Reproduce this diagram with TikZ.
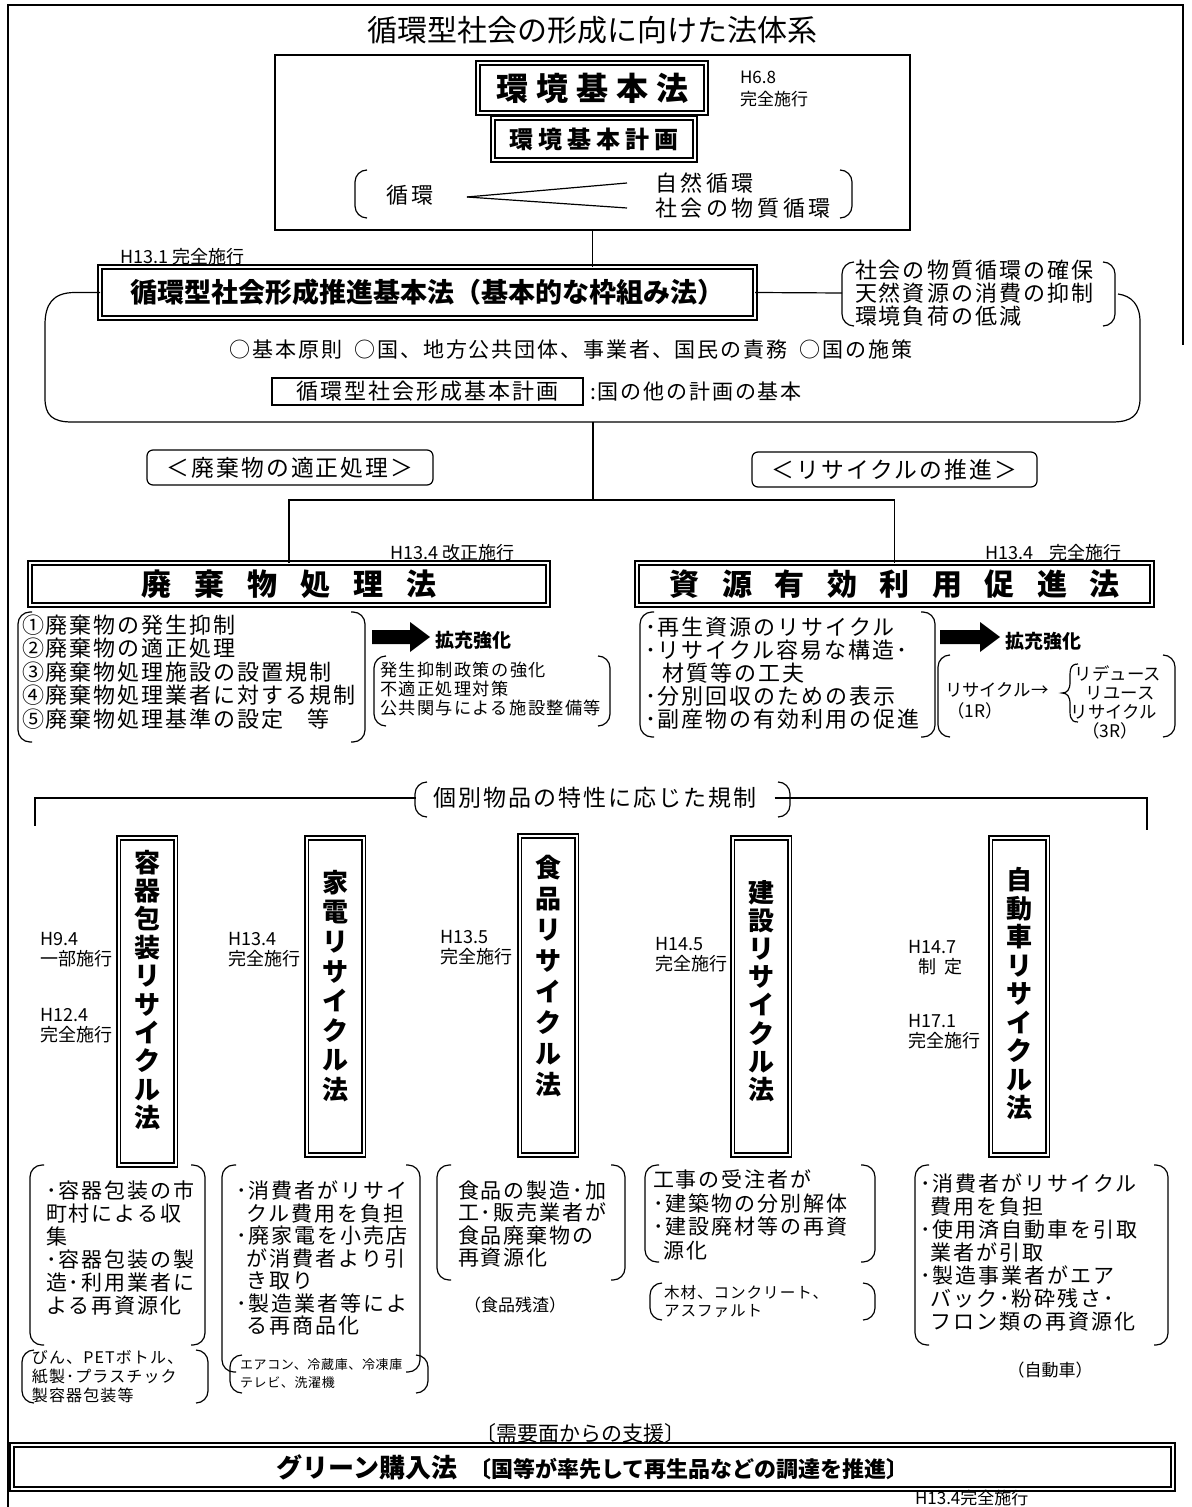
\documentclass[tikz,border=0pt]{standalone}
\usepackage{fontspec}
\setmainfont{Noto Sans CJK JP}
\makeatletter
\newcommand\lsp[2]{\begingroup\def\lsp@sep{\hspace{#1}}\lsp@a#2\lsp@end\endgroup}
\def\lsp@a#1#2\lsp@end{#1\ifx\lsp@end#2\lsp@end\else\lsp@sep\lsp@a#2\lsp@end\fi}
\makeatother
\newcommand\parens[5]{%
  \draw[brk] (#1+#5,#3) -- (#1,#3) -- (#1,#4) -- (#1+#5,#4);
  \draw[brk] (#2-#5,#3) -- (#2,#3) -- (#2,#4) -- (#2-#5,#4);}
\newcommand\jf[3]{\fontsize{#1}{#2}\selectfont\addfontfeatures{LetterSpace=#3}}
\begin{document}
\begin{tikzpicture}[x=0.5pt,y=-0.5pt,
  every node/.style={inner sep=0pt, outer sep=0pt},
  dbox/.style={draw, double, line width=0.8pt, double distance=1.0pt},
  sbox/.style={draw, line width=0.6pt},
  brk/.style={line width=0.6pt, rounded corners=6pt},
  ln/.style={line width=0.6pt},
  vt/.style={align=center},
  lst/.style={anchor=west, align=left},
]
\useasboundingbox (0,0) rectangle (1191,1507);

% outer frame
\draw[ln] (8,1507) -- (8,5) -- (1183,5) -- (1183,345);

\node (title) at (592,30) {\fontsize{15}{18}\selectfont 循環型社会の形成に向けた法体系};

% ---------- top box ----------
\node[sbox, minimum width=317.5pt, minimum height=87.5pt] (topbox) at (592.5,142.5) {};
\node[dbox, minimum width=114pt, minimum height=25pt, font=\fontsize{16}{18}\selectfont\bfseries] (kankyo) at (592,88) {\lsp{4pt}{環境基本法}};
\node[lst, font=\fontsize{8.5}{11}\selectfont] (h68) at (740,89) {H6.8\\完全施行};
\node[dbox, minimum width=101pt, minimum height=21pt, font=\fontsize{12}{14}\selectfont\bfseries] (keikaku) at (594,139) {\lsp{2.5pt}{環境基本計画}};
\parens{355}{852}{170}{218}{12}
\node[font=\fontsize{11}{13}\selectfont] (junkan) at (410,195) {\lsp{2pt}{循環}};
\node[anchor=west, font=\fontsize{11}{13}\selectfont] (shizen) at (655,183) {\lsp{1.8pt}{自然循環}};
\node[anchor=west, font=\fontsize{11}{13}\selectfont] (shakai) at (655,208) {\lsp{1.8pt}{社会の物質循環}};
\coordinate (jA) at (467,197);
\draw[ln] (jA) -- ([xshift=-14pt]shizen.west);
\draw[ln] (jA) -- ([xshift=-14pt]shakai.west);

% ---------- basic law ----------
\node[anchor=west, font=\fontsize{9}{11}\selectfont] (h131) at (120,257) {H13.1 完全施行};
\node[dbox, minimum width=327.5pt, minimum height=25.5pt, font=\fontsize{13.5}{16}\selectfont\bfseries] (kihon) at (427.5,292.5) {循環型社会形成推進基本法（基本的な枠組み法）};
\draw[ln] (topbox.south) -- (topbox.south |- kihon.north);
\node[lst, font=\fontsize{11}{11.5}\selectfont] (rgrp) at (855,293) {\lsp{1pt}{社会の物質循環の確保}\\\lsp{1pt}{天然資源の消費の抑制}\\\lsp{1pt}{環境負荷の低減}};
\parens{842}{1115}{262}{326}{12}
\draw[ln] (kihon.east) -- ([xshift=-6.5pt]rgrp.west);
\draw[ln] (kihon.west) -- (75,292.5) .. controls (52,292.5) and (45,305) .. (45,325) -- (45,398)
   .. controls (45,415) and (52,422) .. (72,422) -- (1112,422)
   .. controls (1132,422) and (1140,415) .. (1140,398) -- (1140,322)
   .. controls (1140,305) and (1132,296) .. (1118,294);
\node[font=\jf{10.5}{13}{9}] (gensoku) at (571,350) {○基本原則\hspace{6pt}○国、地方公共団体、事業者、国民の責務\hspace{6pt}○国の施策};
\node[sbox, minimum width=155.5pt, minimum height=13.5pt, font=\jf{11}{14}{9}] (kplan) at (427.5,391.5) {循環型社会形成基本計画};
\node[anchor=west, font=\jf{10.5}{13}{9}] (kplan2) at (590,392) {:国の他の計画の基本};

% ---------- split ----------
\coordinate (regbot) at (593,422);
\coordinate (split) at (593,500);
\node[sbox, rounded corners=3pt, minimum width=143pt, minimum height=17.5pt, font=\jf{11.4}{14}{9}] (lab1) at (290,467.5) {＜廃棄物の適正処理＞};
\node[sbox, rounded corners=3pt, minimum width=142.5pt, minimum height=17.5pt, font=\jf{11.4}{14}{9}] (lab2) at (894.5,469.5) {＜リサイクルの推進＞};
\node[anchor=west, font=\fontsize{9}{11}\selectfont] (h134a) at (390,553) {H13.4 改正施行};
\node[anchor=west, font=\fontsize{9}{11}\selectfont] (h134b) at (985,553) {H13.4\hspace{8pt}完全施行};
\node[dbox, minimum width=259pt, minimum height=21pt, font=\fontsize{15}{17}\selectfont\bfseries] (haiki) at (289,584) {\lsp{11.5pt}{廃棄物処理法}};
\node[dbox, minimum width=257.5pt, minimum height=21pt, font=\fontsize{15}{17}\selectfont\bfseries] (shigen) at (894.5,584) {\lsp{11.25pt}{資源有効利用促進法}};
\draw[ln] (regbot) -- (split);
\draw[ln] (haiki.north) |- (split) -| (shigen.north);

% ---------- waste law details ----------
\parens{18}{365}{612}{742}{14}
\node[lst, font=\jf{11}{11.7}{9}] (list1) at (22,672) {①廃棄物の発生抑制\\②廃棄物の適正処理\\③廃棄物処理施設の設置規制\\④廃棄物処理業者に対する規制\\⑤廃棄物処理基準の設定\hspace{12pt}等};
\fill (372,630) -- (410,630) -- (410,622) -- (430,637) -- (410,652) -- (410,644) -- (372,644) -- cycle;
\node[anchor=west, font=\fontsize{9.5}{11}\selectfont\bfseries] (kaku1) at (435,640) {拡充強化};
\parens{374}{610}{656}{726}{12}
\node[lst, font=\jf{8.6}{9.5}{8}] (grp1) at (380,689) {発生抑制政策の強化\\不適正処理対策\\公共関与による施設整備等};

% ---------- resource law details ----------
\parens{640}{935}{612}{737}{14}
\node[lst, font=\jf{11}{11.5}{9}] (list2) at (645,673) {･再生資源のリサイクル\\･リサイクル容易な構造･\\\hspace{0.8em}材質等の工夫\\･分別回収のための表示\\･副産物の有効利用の促進};
\fill (940,630) -- (980,630) -- (980,622) -- (1000,637) -- (980,652) -- (980,644) -- (940,644) -- cycle;
\node[anchor=west, font=\fontsize{9.5}{11}\selectfont\bfseries] (kaku2) at (1005,641) {拡充強化};
\parens{938}{1175}{655}{737}{12}
\node[anchor=west, font=\fontsize{8.7}{10}\selectfont] (r1) at (945,690) {リサイクル→};
\node[font=\fontsize{8.7}{10}\selectfont] (r1b) at (975,711) {（1R）};
\node[font=\fontsize{8.7}{10}\selectfont] (r3a) at (1118,674) {リデュース};
\node[font=\fontsize{8.7}{10}\selectfont] (r3b) at (1120,693) {リユース};
\node[font=\fontsize{8.7}{10}\selectfont] (r3c) at (1114,712) {リサイクル};
\node[font=\fontsize{8.7}{10}\selectfont] (r3d) at (1110,731) {（3R）};
\draw[ln] (1078,664) .. controls (1069,664) and (1070,672) .. (1070,682) .. controls (1070,690) and (1067,693) .. (1062,693) .. controls (1067,693) and (1070,696) .. (1070,704) .. controls (1070,715) and (1069,722) .. (1078,722);

% ---------- individual laws ----------
\node[font=\fontsize{11.5}{13}\selectfont] (kobetsu) at (595,798) {\lsp{1pt}{個別物品の特性に応じた規制}};
\parens{415}{790}{782}{817}{12}
\coordinate (kL) at (35,826);
\coordinate (kR) at (1147,830);
\draw[ln] ([xshift=-9pt]kobetsu.west) -| (kL);
\draw[ln] ([xshift=9pt]kobetsu.east) -| (kR);

\node[dbox, minimum width=28.5pt, minimum height=163.5pt] (v1) at (147,1001.5) {};
\node[dbox, minimum width=28.5pt, minimum height=158.5pt] (v2) at (335,996.5) {};
\node[dbox, minimum width=28.5pt, minimum height=159.5pt] (v3) at (548,995.5) {};
\node[dbox, minimum width=28.5pt, minimum height=158.5pt] (v4) at (761,996.5) {};
\node[dbox, minimum width=28.5pt, minimum height=158.5pt] (v5) at (1019,996.5) {};
\node[vt, font=\fontsize{13}{14.2}\selectfont\bfseries] (v1t) at (147,990) {容\\器\\包\\装\\リ\\サ\\イ\\ク\\ル\\法};
\node[vt, font=\fontsize{13}{14.8}\selectfont\bfseries] (v2t) at (335,986) {家\\電\\リ\\サ\\イ\\ク\\ル\\法};
\node[vt, font=\fontsize{13}{15.5}\selectfont\bfseries] (v3t) at (548,976) {食\\品\\リ\\サ\\イ\\ク\\ル\\法};
\node[vt, font=\fontsize{13}{14.1}\selectfont\bfseries] (v4t) at (761,991) {建\\設\\リ\\サ\\イ\\ク\\ル\\法};
\node[vt, font=\fontsize{13}{14.25}\selectfont\bfseries] (v5t) at (1019,994) {自\\動\\車\\リ\\サ\\イ\\ク\\ル\\法};

\node[lst, font=\fontsize{9}{10}\selectfont] (d1a) at (40,950) {H9.4\\一部施行};
\node[lst, font=\fontsize{9}{10}\selectfont] (d1b) at (40,1026) {H12.4\\完全施行};
\node[lst, font=\fontsize{9}{10}\selectfont] (d2) at (228,950) {H13.4\\完全施行};
\node[lst, font=\fontsize{9}{10}\selectfont] (d3) at (440,948) {H13.5\\完全施行};
\node[lst, font=\fontsize{9}{10}\selectfont] (d4) at (655,955) {H14.5\\完全施行};
\node[lst, font=\fontsize{9}{10}\selectfont] (d5a) at (908,958) {H14.7\\\hspace{0.6em}制\hspace{4pt}定};
\node[lst, font=\fontsize{9}{10}\selectfont] (d5b) at (908,1032) {H17.1\\完全施行};

% ---------- lower descriptions ----------
\parens{30}{205}{1165}{1345}{14}
\node[lst, font=\jf{10.5}{11.5}{9.5}] (b1) at (46,1248) {･容器包装の市\\町村による収\\集\\･容器包装の製\\造･利用業者に\\よる再資源化};
\parens{222}{420}{1165}{1372}{14}
\node[lst, font=\jf{10.5}{11.25}{9.5}] (b2) at (236,1258) {･消費者がリサイ\\\hspace{0.5em}クル費用を負担\\･廃家電を小売店\\\hspace{0.5em}が消費者より引\\\hspace{0.5em}き取り\\･製造業者等によ\\\hspace{0.5em}る再商品化};
\parens{437}{625}{1165}{1280}{14}
\node[lst, font=\jf{10.5}{11.2}{9.5}] (b3) at (458,1224) {食品の製造･加\\工･販売業者が\\食品廃棄物の\\再資源化};
\node[font=\fontsize{8.5}{10}\selectfont] (b3n) at (515,1305) {（食品残渣）};
\parens{645}{875}{1165}{1262}{14}
\node[lst, font=\jf{10.5}{11.7}{9.5}] (b4) at (653,1215) {工事の受注者が\\･建築物の分別解体\\･建設廃材等の再資\\\hspace{0.5em}源化};
\parens{650}{875}{1283}{1320}{12}
\node[lst, font=\jf{7.8}{9}{6}] (b4n) at (664,1302) {木材、コンクリート、\\アスファルト};
\parens{915}{1168}{1165}{1345}{14}
\node[lst, font=\jf{10.5}{11.5}{9.5}] (b5) at (920,1252) {･消費者がリサイクル\\\hspace{0.5em}費用を負担\\･使用済自動車を引取\\\hspace{0.5em}業者が引取\\･製造事業者がエア\\\hspace{0.5em}バック･粉砕残さ･\\\hspace{0.5em}フロン類の再資源化};
\node[font=\fontsize{8.5}{10}\selectfont] (b5n) at (1050,1370) {（自動車）};
\parens{22}{208}{1350}{1403}{12}
\node[lst, font=\jf{8}{9.5}{7}] (s1) at (32,1377) {びん、PETボトル、\\紙製･プラスチック\\製容器包装等};
\parens{230}{428}{1355}{1393}{12}
\node[lst, font=\jf{6.5}{9}{5}] (s2) at (240,1374) {エアコン、冷蔵庫、冷凍庫\\テレビ、洗濯機};

% ---------- green purchase ----------
\node[font=\fontsize{10.5}{12}\selectfont] (juyo) at (580,1434) {〔需要面からの支援〕};
\node[dbox, minimum width=580.5pt, minimum height=22pt] (green) at (592.5,1467) {\fontsize{13}{15}\selectfont\bfseries グリーン購入法\hspace{6pt}\fontsize{11}{13}\selectfont〔国等が率先して再生品などの調達を推進〕};
\node[anchor=west, font=\fontsize{8.5}{10}\selectfont] (h134c) at (915,1498) {H13.4完全施行};
\end{tikzpicture}
\end{document}
